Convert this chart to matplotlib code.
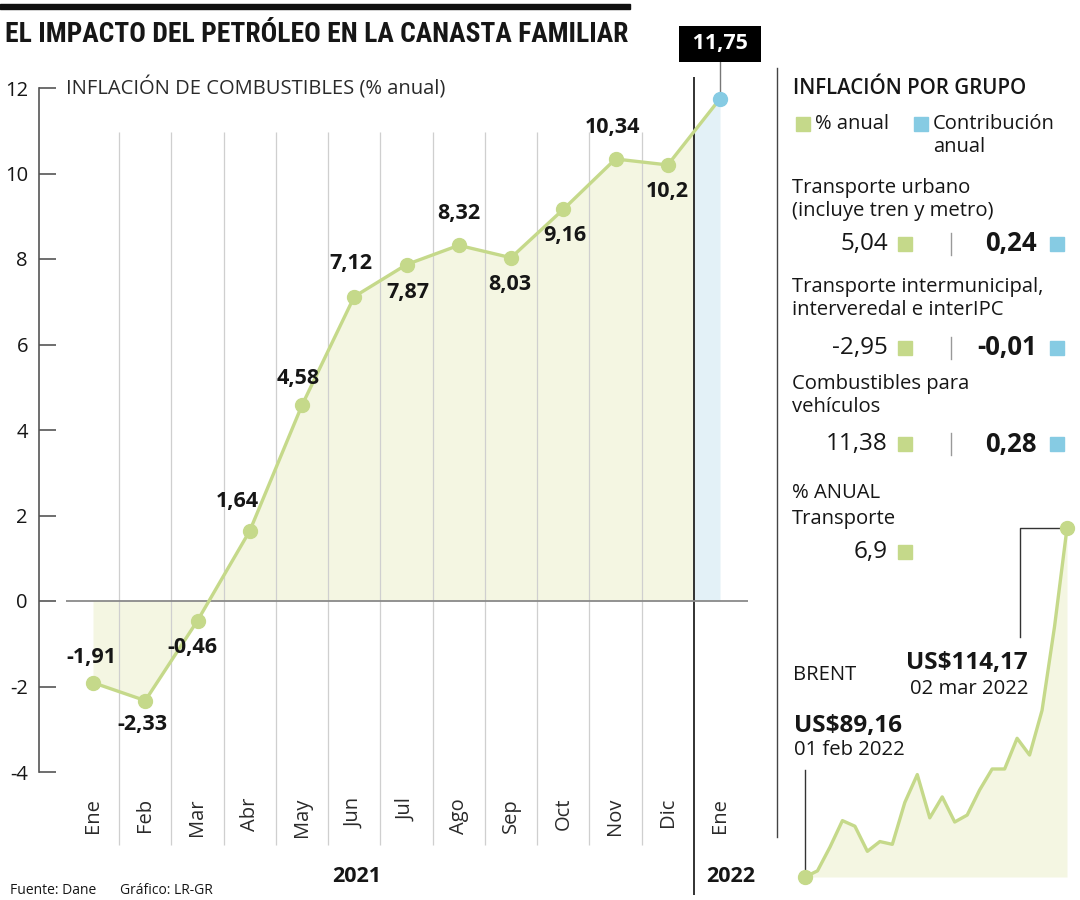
import matplotlib.pyplot as plt
import matplotlib.patches as mpatches
from matplotlib.lines import Line2D
import numpy as np

plt.rcParams['font.family'] = ['Open Sans', 'DejaVu Sans']
plt.rcParams['axes.unicode_minus'] = False

# data
months = ['Ene', 'Feb', 'Mar', 'Abr', 'May', 'Jun', 'Jul', 'Ago', 'Sep',
          'Oct', 'Nov', 'Dic', 'Ene']
fuel_inflation = [-1.91, -2.33, -0.46, 1.64, 4.58, 7.12, 7.87, 8.32, 8.03,
                  9.16, 10.34, 10.2, 11.75]
years = ['2021', '2022']

group_lines = [['Transporte urbano', '(incluye tren y metro)'],
               ['Transporte intermunicipal,', 'interveredal e interIPC'],
               ['Combustibles para', 'vehículos']]
group_annual = [5.04, -2.95, 11.38]
group_contrib = [0.24, -0.01, 0.28]
transport_annual = 6.9

brent_prices = [89.16, 89.6, 91.3, 93.2, 92.8, 91.0, 91.7, 91.5, 94.5, 96.5,
                93.4, 94.9, 93.1, 93.6, 95.4, 96.9, 96.9, 99.1, 97.9, 101.1,
                107.1, 114.17]
brent_dates = ['01 feb 2022', '02 mar 2022']

# styles
GREEN = '#c5d98a'
GREEN_FILL = '#f4f6e2'
BLUE = '#86cbe3'
BLUE_FILL = '#e3f1f7'
INK = '#161616'
W, H = 1080, 900

# label offsets in px (dx, dy up)
label_offsets = [(-2, 25), (-3, -24), (-5, -27), (-12, 29), (-4, 27), (-3, 33),
                 (1, -28), (0, 32), (-1, -27), (2, -26), (-3, 31), (0, -27)]


def fx(px):
    return px / W


def fy(py):
    return 1 - py / H


def fmt(v):
    return f'{v:g}'.replace('.', ',')


fig = plt.figure(figsize=(W / 100, H / 100), dpi=100)

# main chart: month i sits at 93 + 52.25*i px, value 12 sits at 88 px
XS, YS = 52.25, 42.75


def dx(px):
    return (px - 93) / XS


def dy(py):
    return 12 - (py - 88) / YS


ax = fig.add_axes([fx(39), fy(850), (777 - 39) / W, (850 - 60) / H])
ax.set_xlim(dx(39), dx(777))
ax.set_ylim(dy(850), dy(60))
ax.patch.set_alpha(0)
for s in ['top', 'right', 'bottom']:
    ax.spines[s].set_visible(False)
ax.spines['left'].set_bounds(-4, 12)
ax.spines['left'].set_color('#555555')
ax.spines['left'].set_linewidth(1.2)
ax.set_xticks([])
ax.set_yticks(range(-4, 13, 2))
ax.set_yticklabels([str(v) for v in range(-4, 13, 2)])
ax.tick_params(axis='y', direction='in', length=12, width=1.2, color='#555555',
               pad=8, labelsize=14.5, labelcolor=INK)

x = np.arange(len(fuel_inflation))
y = np.array(fuel_inflation)
split = len(x) - 1.5
y_split = np.interp(split, x, y)

ax.fill_between(np.append(x[:-1], split), np.append(y[:-1], y_split), 0,
                color=GREEN_FILL, lw=0, zorder=1)
ax.fill_between([split, x[-1]], [y_split, y[-1]], 0, color=BLUE_FILL, lw=0, zorder=1)

ax.vlines(np.arange(0.5, len(x) - 2), dy(845), dy(132), color='#cfcfcf', lw=0.9,
          zorder=1.5, clip_on=False)
ax.vlines(split, dy(895), dy(77), color='#222222', lw=1.3, zorder=2, clip_on=False)
ax.hlines(0, dx(66), dx(748), color='#8a8a8a', lw=1.3, zorder=2)

ax.plot([x[-1], x[-1]], [y[-1], dy(62)], color='#777777', lw=1, zorder=2.5,
        clip_on=False)
ax.plot(x, y, color=GREEN, lw=2.4, zorder=3)
ax.plot(x[:-1], y[:-1], 'o', color=GREEN, ms=10, zorder=4)
ax.plot(x[-1], y[-1], 'o', color=BLUE, ms=10, zorder=4, clip_on=False)

for xi, yi, (ox, oy) in zip(x[:-1], y[:-1], label_offsets):
    ax.annotate(fmt(yi), (xi, yi), xytext=(ox * 0.72, oy * 0.72),
                textcoords='offset points', ha='center', va='center',
                fontsize=15.5, fontweight='bold', color=INK, zorder=5)

ax.annotate(' ' + fmt(y[-1]) + ' ', (x[-1], y[-1]), xytext=(0, 55 * 0.72),
            textcoords='offset points', ha='center', va='center',
            fontsize=15.5, fontweight='bold', color='white', zorder=5,
            annotation_clip=False,
            bbox=dict(boxstyle='square,pad=0.34', fc='black', ec='none'))

for i, m in enumerate(months):
    ax.text(i, dy(798), m, rotation=90, ha='center', va='top', fontsize=14.5,
            color='#2a2a2a')

ax.text(dx(66), 12, 'INFLACIÓN DE COMBUSTIBLES (% anual)', ha='left',
        va='center', fontsize=14.5, color='#2a2a2a')

fig.text(fx(357), fy(876), years[0], ha='center', va='center', fontsize=15.5,
         fontweight='bold', color=INK)
fig.text(fx(731), fy(876), years[1], ha='center', va='center', fontsize=15.5,
         fontweight='bold', color=INK)

# header
fig.add_artist(mpatches.Rectangle((0, fy(9)), fx(630), 5 / H, color='#111111',
                                  transform=fig.transFigure))
fig.text(fx(5), fy(34), 'EL IMPACTO DEL PETRÓLEO EN LA CANASTA FAMILIAR',
         ha='left', va='center', fontsize=19.8,
         family=['Roboto Condensed', 'Liberation Sans Narrow', 'Open Sans'],
         fontweight='bold', color=INK)
fig.text(fx(10), fy(890), 'Fuente: Dane', ha='left', va='center', fontsize=10,
         color=INK)
fig.text(fx(120), fy(890), 'Gráfico: LR-GR', ha='left', va='center', fontsize=10,
         color=INK)

# right panel
fig.add_artist(Line2D([fx(777), fx(777)], [fy(68), fy(837)], color='#444444',
                      lw=1, transform=fig.transFigure))


def square(px, py, color):
    fig.add_artist(mpatches.Rectangle((fx(px), fy(py + 7)), 14 / W, 14 / H,
                                      color=color, transform=fig.transFigure))


fig.text(fx(793), fy(89), 'INFLACIÓN POR GRUPO', ha='left', va='center',
         fontsize=14.8, fontweight='semibold', color=INK)
square(796, 124, GREEN)
fig.text(fx(815), fy(124), '% anual', ha='left', va='center', fontsize=14.5,
         color=INK)
square(914, 124, BLUE)
fig.text(fx(933), fy(124), 'Contribución', ha='left', va='center', fontsize=14.5,
         color=INK)
fig.text(fx(933), fy(147), 'anual', ha='left', va='center', fontsize=14.5,
         color=INK)

row_tops = [188, 287, 384]
row_values = [244, 348, 444]
for lines, ann, con, ty, vy in zip(group_lines, group_annual, group_contrib,
                                   row_tops, row_values):
    for k, line in enumerate(lines):
        fig.text(fx(792), fy(ty + 23 * k), line, ha='left', va='center',
                 fontsize=14.6, color=INK)
    fig.text(fx(888), fy(vy), fmt(ann), ha='right', va='center', fontsize=17.5,
             color=INK)
    square(898, vy, GREEN)
    fig.add_artist(Line2D([fx(951), fx(951)], [fy(vy - 11), fy(vy + 11)],
                          color='#999999', lw=1, transform=fig.transFigure))
    fig.text(fx(1037), fy(vy), fmt(con), ha='right', va='center', fontsize=18.5,
             fontweight='bold', color=INK)
    square(1050, vy, BLUE)

fig.text(fx(792), fy(493), '% ANUAL', ha='left', va='center', fontsize=14.6,
         color=INK)
fig.text(fx(792), fy(519), 'Transporte', ha='left', va='center', fontsize=14.6,
         color=INK)
fig.text(fx(888), fy(552), fmt(transport_annual), ha='right', va='center',
         fontsize=17.5, color=INK)
square(898, 552, GREEN)

# brent sparkline
bx = np.arange(len(brent_prices))
bp = np.array(brent_prices)
BXS = (1067 - 805) / (len(bp) - 1)
BYS = (877 - 528) / (bp[-1] - bp[0])
bax = fig.add_axes([fx(795), fy(885), (1075 - 795) / W, (885 - 515) / H])
bax.set_xlim(-(805 - 795) / BXS, (1075 - 805) / BXS)
bax.set_ylim(bp[0] - (885 - 877) / BYS, bp[-1] + (528 - 515) / BYS)
bax.axis('off')
bax.patch.set_alpha(0)
bax.fill_between(bx, bp, bp.min(), color=GREEN_FILL, lw=0, zorder=1)
bax.plot(bx, bp, color=GREEN, lw=2.4, zorder=3)
bax.plot(bx[[0, -1]], bp[[0, -1]], 'o', color=GREEN, ms=10, zorder=4, clip_on=False)
bax.plot([bx[-1], bx[-1] - 47 / BXS, bx[-1] - 47 / BXS],
         [bp[-1], bp[-1], bp[-1] - 109 / BYS], color='#333333', lw=1, zorder=2)
bax.plot([bx[0], bx[0]], [bp[0], bp[0] + 107 / BYS], color='#333333', lw=1, zorder=2)

fig.text(fx(793), fy(675), 'BRENT', ha='left', va='center', fontsize=14.6,
         color=INK)
fig.text(fx(1028), fy(663), 'US$' + f'{bp[-1]:.2f}'.replace('.', ','), ha='right',
         va='center', fontsize=17.5, fontweight='bold', color=INK)
fig.text(fx(1028), fy(689), brent_dates[1], ha='right', va='center', fontsize=14.6,
         color=INK)
fig.text(fx(794), fy(726), 'US$' + f'{bp[0]:.2f}'.replace('.', ','), ha='left',
         va='center', fontsize=17.5, fontweight='bold', color=INK)
fig.text(fx(794), fy(750), brent_dates[0], ha='left', va='center', fontsize=14.6,
         color=INK)

fig.savefig('out.png', dpi=100)
